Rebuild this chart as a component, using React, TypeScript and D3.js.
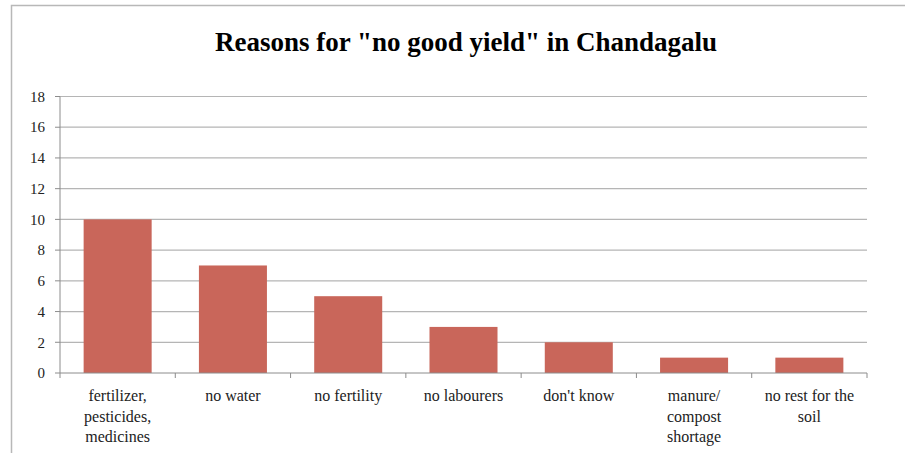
import React from "react";
import * as d3 from "d3";

const categories: string[][] = [
  ["fertilizer,", "pesticides,", "medicines"],
  ["no water"],
  ["no fertility"],
  ["no labourers"],
  ["don't know"],
  ["manure/", "compost", "shortage"],
  ["no rest for the", "soil"],
];
const counts: number[] = [10, 7, 5, 3, 2, 1, 1];
const yTicks: number[] = [0, 2, 4, 6, 8, 10, 12, 14, 16, 18];
const title = 'Reasons for "no good yield" in Chandagalu';

const W = 905;
const H = 453;
const plot = { left: 60, right: 867, top: 96.5, bottom: 373 };
const font = "'Liberation Serif', 'Times New Roman', Times, serif";

export default function App() {
  const x = d3
    .scaleBand<number>()
    .domain(categories.map((_, i) => i))
    .range([plot.left, plot.right])
    .paddingInner(0.41)
    .paddingOuter(0.205);
  const slot = d3
    .scaleBand<number>()
    .domain(categories.map((_, i) => i))
    .range([plot.left, plot.right]);
  const y = d3.scaleLinear().domain([0, 18]).range([plot.bottom, plot.top]);
  const textStyle = { fontFamily: font };

  return (
    <svg
      width={W}
      height={H}
      style={{ position: "absolute", left: 0, top: 0, background: "#fff" }}
    >
      {/* chart frame */}
      <path d={`M11.5,${H} V5.5 H${W}`} fill="none" stroke="#b8b8b8" strokeWidth={1.5} />

      <text
        x={466}
        y={51}
        textAnchor="middle"
        fontSize={27}
        fontWeight="bold"
        fill="#000"
        style={textStyle}
      >
        {title}
      </text>

      {/* gridlines */}
      {yTicks.filter((t) => t > 0).map((t) => (
        <line
          key={t}
          x1={plot.left}
          x2={plot.right}
          y1={y(t)}
          y2={y(t)}
          stroke="#b5b5b5"
          strokeWidth={1.2}
        />
      ))}

      {/* bars */}
      {counts.map((v, i) => (
        <rect
          key={i}
          x={x(i)}
          y={y(v)}
          width={x.bandwidth()}
          height={y(0) - y(v)}
          fill="#c9665a"
        />
      ))}

      {/* y axis */}
      <line x1={plot.left} x2={plot.left} y1={plot.top} y2={plot.bottom} stroke="#8c8c8c" />
      {yTicks.map((t) => (
        <g key={t}>
          <line x1={plot.left - 5} x2={plot.left} y1={y(t)} y2={y(t)} stroke="#8c8c8c" />
          <text
            x={45}
            y={y(t)}
            dy="0.35em"
            textAnchor="end"
            fontSize={15}
            fill="#222"
            style={textStyle}
          >
            {t}
          </text>
        </g>
      ))}

      {/* x axis */}
      <line x1={plot.left} x2={plot.right} y1={plot.bottom} y2={plot.bottom} stroke="#8c8c8c" />
      {categories.map((_, i) => (
        <line
          key={i}
          x1={(slot(i) as number) + slot.bandwidth()}
          x2={(slot(i) as number) + slot.bandwidth()}
          y1={plot.bottom}
          y2={plot.bottom + 5}
          stroke="#8c8c8c"
        />
      ))}
      <line x1={plot.left} x2={plot.left} y1={plot.bottom} y2={plot.bottom + 5} stroke="#8c8c8c" />
      {categories.map((lines, i) => {
        const cx = (slot(i) as number) + slot.bandwidth() / 2;
        return (
          <text
            key={i}
            x={cx}
            y={401}
            textAnchor="middle"
            fontSize={16}
            fill="#222"
            style={textStyle}
          >
            {lines.map((l, j) => (
              <tspan key={j} x={cx} dy={j === 0 ? 0 : 20.5}>
                {l}
              </tspan>
            ))}
          </text>
        );
      })}
    </svg>
  );
}
